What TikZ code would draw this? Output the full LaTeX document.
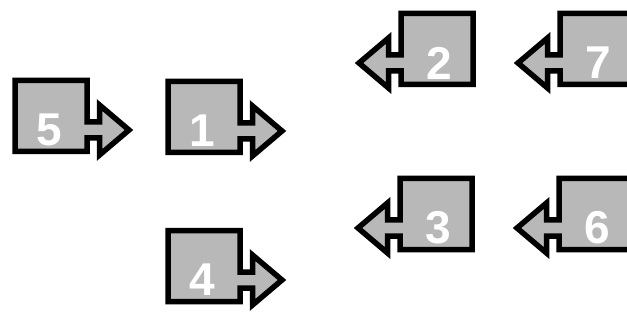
\documentclass[tikz,border=0pt]{standalone}
\usepackage{fontspec}
\setmainfont{Liberation Sans}
\definecolor{BoxGray}{RGB}{184,184,184}

\begin{document}
\begin{tikzpicture}[x=1pt, y=-1pt,
          blk/.style={draw=black, fill=BoxGray, line width=5.5pt,
                      line join=miter},
          num/.style={text=white, inner sep=0pt,
                      font=\fontsize{46}{46}\selectfont\bfseries}
        ]
        \useasboundingbox (0,0) rectangle (627,334);
        \clip (0,0) rectangle (627,334);
        % Boxes with block arrows (d=1 points right, d=-1 points left)
        \foreach \n/\cx/\cy/\d in {5/51/116/1, 1/204/117/1, 4/204/266/1,
                                  2/437/49/-1, 7/596/49/-1,
                                  3/436/214/-1, 6/595/214/-1} {
          \draw[blk] ({\cx-(\d)*36},{\cy-35.5}) -- ({\cx+(\d)*36},{\cy-35.5})
                -- ({\cx+(\d)*36},{\cy+6}) -- ({\cx+(\d)*48.5},{\cy+6})
                -- ({\cx+(\d)*48.5},{\cy-11}) -- ({\cx+(\d)*78},{\cy+14})
                -- ({\cx+(\d)*48.5},{\cy+39}) -- ({\cx+(\d)*48.5},{\cy+22})
                -- ({\cx+(\d)*36},{\cy+22}) -- ({\cx+(\d)*36},{\cy+35.5})
                -- ({\cx-(\d)*36},{\cy+35.5}) -- cycle;
          \node[num] (b\n) at ({\cx-2*(\d)},{\cy+14}) {\n};
        }
      \end{tikzpicture}
\end{document}
